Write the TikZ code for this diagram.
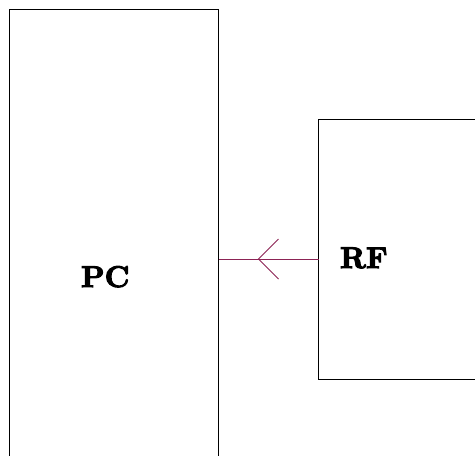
\documentclass[tikz,border=0pt]{standalone}
\usepackage{fontspec}
\newfontfamily\heavyfont{lmroman10-bold.otf}[FakeBold=3.5]
\usetikzlibrary{calc}
\definecolor{linkcol}{RGB}{140,35,85}
\begin{document}
\begin{tikzpicture}[x=1pt,y=-1pt,
  boxstyle/.style={draw=black,line width=1pt,fill=none,inner sep=0pt,outer sep=0pt,anchor=north west},
  labelstyle/.style={inner sep=0pt,outer sep=0pt,anchor=base west,font=\fontsize{30}{36}\heavyfont},
  linkstyle/.style={draw=linkcol,line width=1pt}]
\useasboundingbox (0,0) rectangle (475,456);
\clip (0,0) rectangle (475,456);
\node[boxstyle,minimum width=209.5pt,minimum height=470pt] (pc) at (9,9.5) {};
\node[boxstyle,minimum width=180pt,minimum height=260pt] (rf) at (318.5,119) {};
\node[labelstyle] (pclabel) at (81,287) {PC};
\node[labelstyle] (rflabel) at (340,268) {RF};
\coordinate (rfport) at (318.5,259);
\coordinate (pcport) at (218.5,259);
\draw[linkstyle] (rfport) -- (pcport);
\coordinate (tip) at ($(rfport)!0.6!(pcport)$);
\draw[linkstyle] ($(tip)+(20,-20)$) -- (tip) -- ($(tip)+(20,20)$);
\end{tikzpicture}
\end{document}
